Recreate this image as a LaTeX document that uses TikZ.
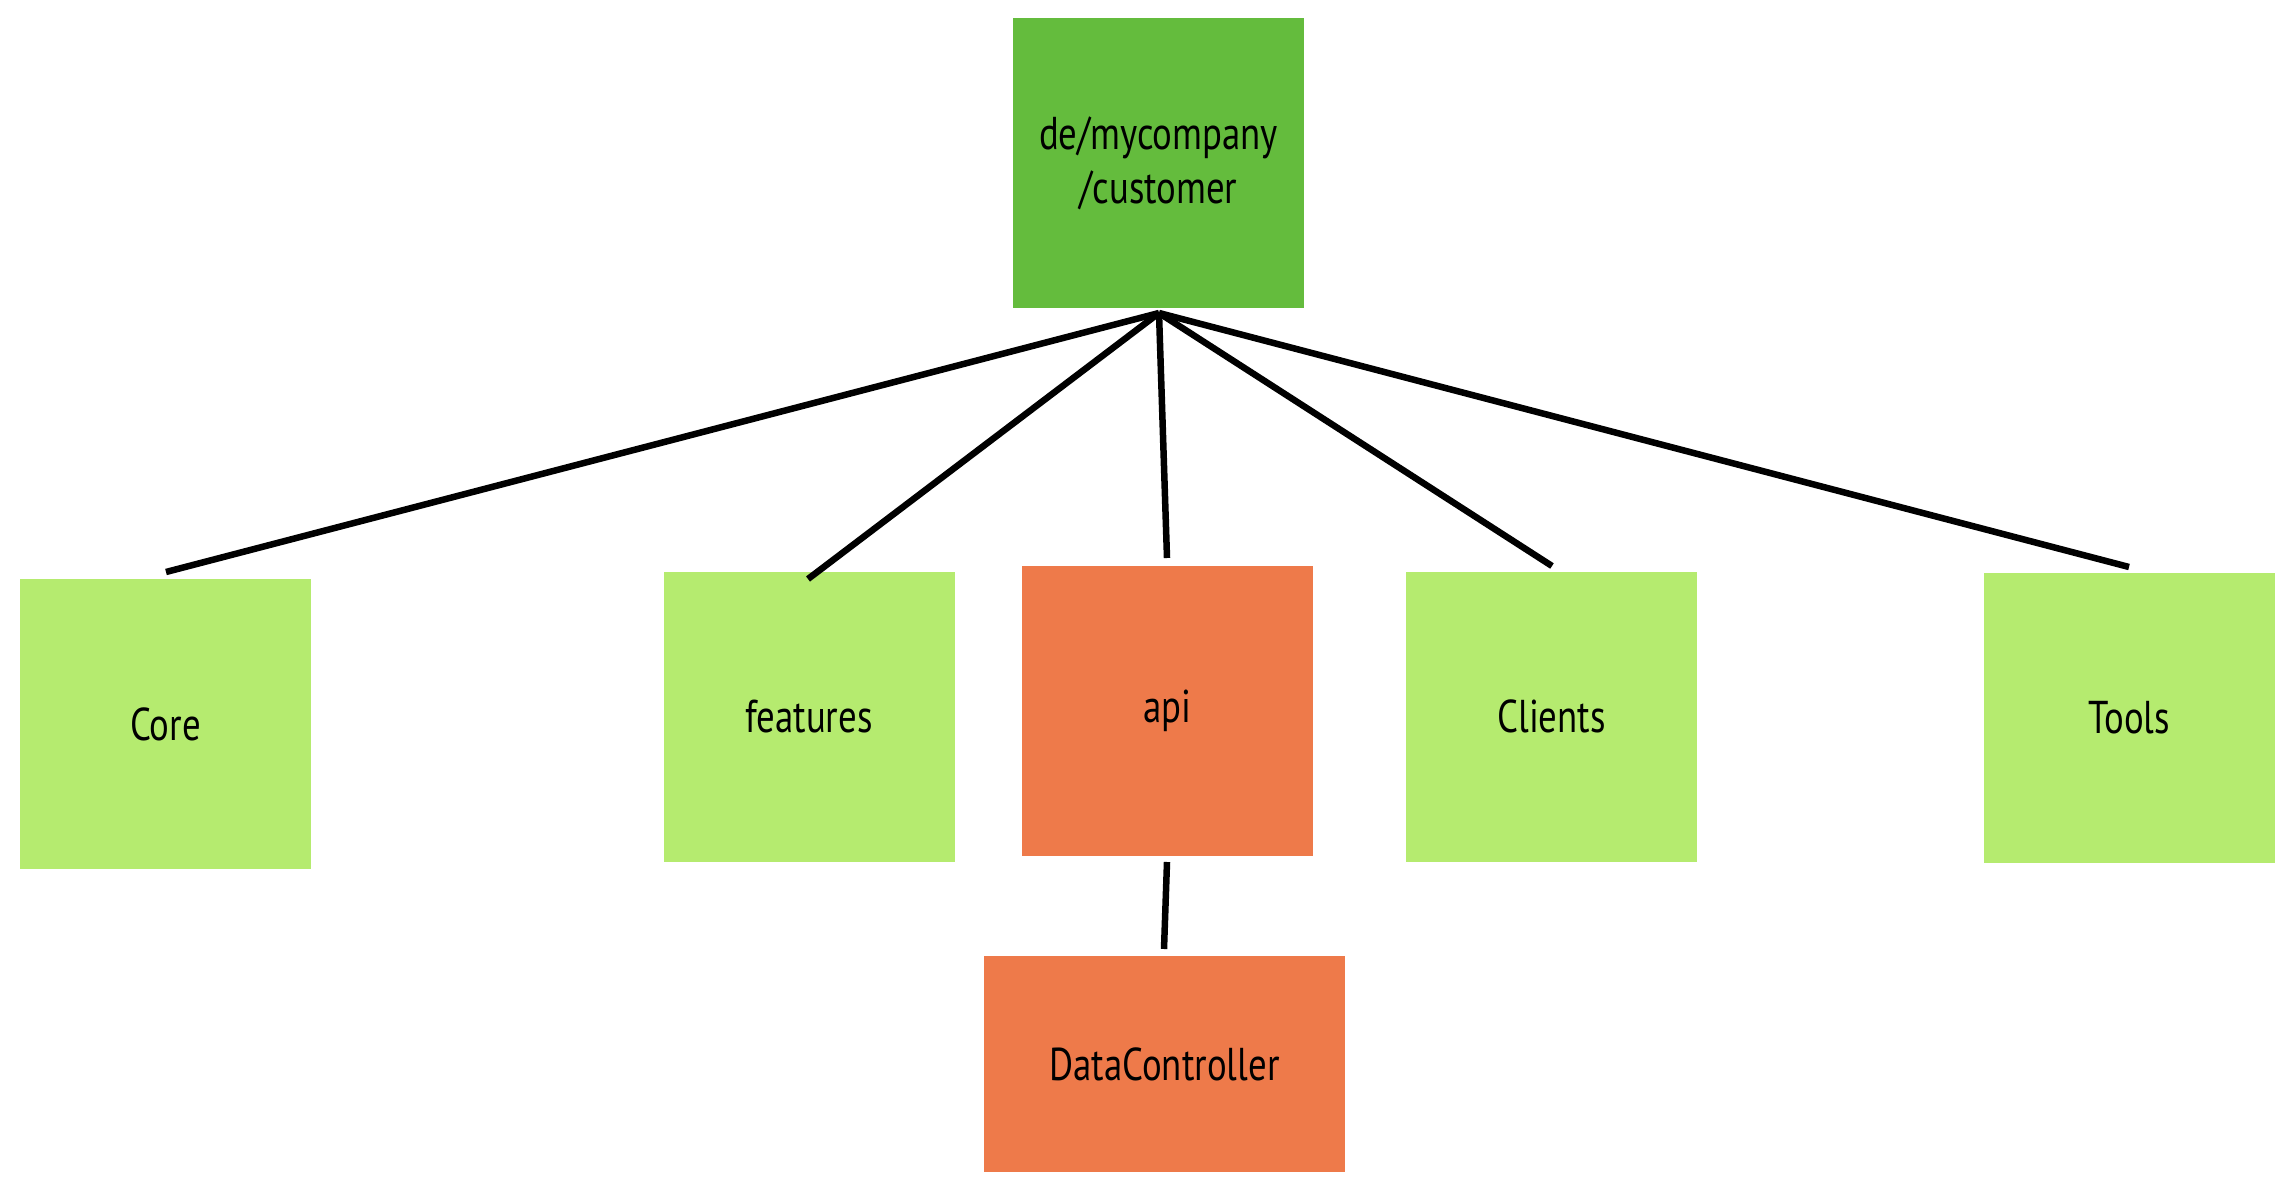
\documentclass[tikz,border=0pt]{standalone}
\usepackage{fontspec}
\setmainfont{PT Sans}[FakeStretch=0.8]
\definecolor{topgreen}{HTML}{64BC3D}
\definecolor{lightgreen}{HTML}{B5EB6F}
\definecolor{apiorange}{HTML}{EE7A4A}
\begin{document}
\begin{tikzpicture}[x=0.5pt,y=-0.5pt,
  box/.style={rectangle, draw=none, inner sep=0pt, align=center,
    minimum width=145.5pt, minimum height=145pt,
    font=\fontsize{23pt}{27pt}\selectfont},
  pkg/.style={box, fill=lightgreen},
  orangebox/.style={box, fill=apiorange},
  link/.style={line width=3.25pt, black}]
\useasboundingbox (0,0) rectangle (2292,1192);
\node[box, fill=topgreen] (root) at (1158.5,163.5) {de/mycompany\\/customer};
\node[pkg] (core) at (165.5,724) {Core};
\node[pkg] (features) at (809,716.5) {features};
\node[orangebox] (api) at (1167.5,710.5) {api};
\node[pkg] (clients) at (1551.5,716.5) {Clients};
\node[pkg] (tools) at (2129.5,718) {Tools};
\node[orangebox, minimum width=180.5pt, minimum height=108pt] (dc) at (1164.5,1064) {DataController};
\coordinate (hub) at (1159,313);
\coordinate (coreEnd) at (166,572);
\coordinate (featEnd) at (808,579);
\coordinate (apiEnd) at (1167,558);
\coordinate (cliEnd) at (1552,566);
\coordinate (toolEnd) at (2129,567);
\coordinate (apiBot) at (1167,862);
\coordinate (dcTop) at (1164,949);
\draw[link] (hub) -- (coreEnd);
\draw[link] (hub) -- (featEnd);
\draw[link] (hub) -- (apiEnd);
\draw[link] (hub) -- (cliEnd);
\draw[link] (hub) -- (toolEnd);
\draw[link] (apiBot) -- (dcTop);
\end{tikzpicture}
\end{document}
